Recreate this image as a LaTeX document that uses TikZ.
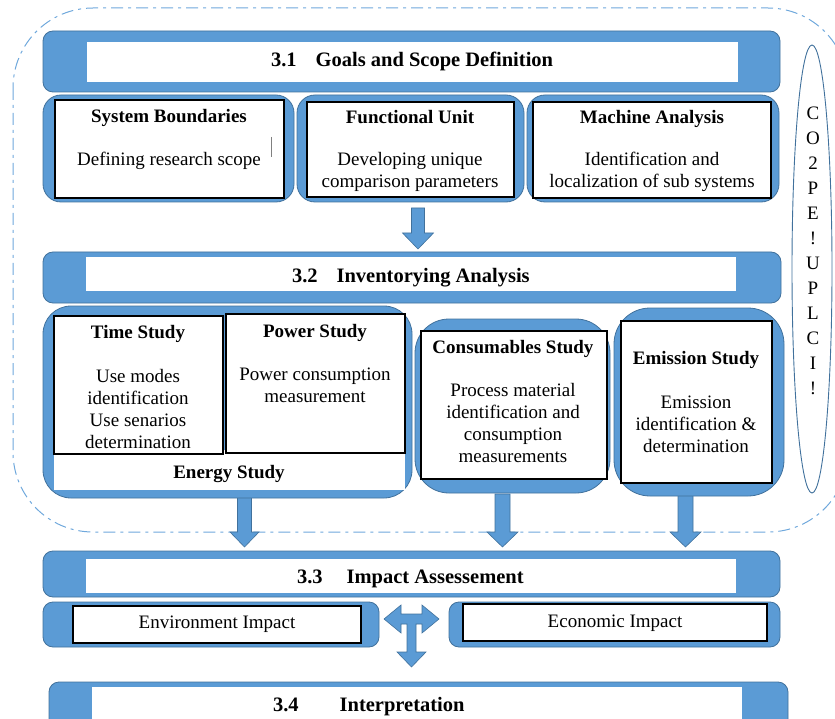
\documentclass[tikz,border=0pt]{standalone}
\usepackage{fontspec}
\setmainfont{Liberation Serif}

\definecolor{boxblue}{RGB}{91,155,213}
\definecolor{edgeblue}{RGB}{65,113,156}
\definecolor{dashblue}{RGB}{111,168,220}

% rectangle node given by its corners (x1,y1)-(x2,y2)
\newcommand\rbox[6]{%
  \node[#2, minimum width={(#5-#3)*1pt}, minimum height={(#6-#4)*1pt}]
    (#1) at ({(#3+#5)/2},{(#4+#6)/2}) {};}

% downward block arrow: centre x, top, start of head, tip, shaft half width, head half width
\newcommand\blockdown[6]{%
  \draw[fatarrow] ({#1-#5},#2) -- ({#1-#5},#3) -- ({#1-#6},#3) -- (#1,#4)
    -- ({#1+#6},#3) -- ({#1+#5},#3) -- ({#1+#5},#2) -- cycle;}

\tikzset{
  every node/.style={inner sep=0pt, outer sep=0pt},
  bluebox/.style={fill=boxblue, draw=edgeblue, line width=0.8pt},
  framebox/.style={fill=white, draw=black, line width=1.2pt},
  plainbox/.style={fill=white, draw=none},
  fatarrow/.style={fill=boxblue, draw=edgeblue, line width=0.6pt, line join=miter},
  hdrtext/.style={anchor=base west, font=\bfseries\fontsize{20.5}{24}\selectfont},
  titletext/.style={anchor=base, font=\bfseries\fontsize{19}{22}\selectfont},
  % multi-line body text: the base anchor sits on the last line
  bodytext/.style={anchor=base, align=center, font=\fontsize{19}{22}\selectfont},
  outline/.style={draw=dashblue, line width=1pt, dash pattern=on 12pt off 5pt on 3pt off 5pt},
}

\begin{document}
\begin{tikzpicture}[x=1pt, y=-1pt]
\useasboundingbox (0,0) rectangle (835,719);
\clip (0,0) rectangle (835,719);

% dash-dot boundary around goals and inventory stages
\draw[outline, rounded corners=80pt] (13,8) rectangle (848,532);

% side label
\draw[edgeblue, line width=0.9pt] (812,269) ellipse [x radius=20, y radius=224];
\node[align=center, font=\fontsize{19}{25}\selectfont] (cope) at (813,250.5)
  {C\\O\\2\\P\\E\\!\\U\\P\\L\\C\\I\\!};

% block arrows between stages
\blockdown{418}{208}{233}{249}{6.5}{15.5}
\blockdown{244.5}{496}{532}{547}{7}{14.5}
\blockdown{502.5}{494}{532}{547}{7.5}{15.5}
\blockdown{685.5}{494}{532}{547}{7.5}{15.5}
\draw[fatarrow] (384,619) -- (401,605) -- (401,614) -- (422,614) -- (422,605)
  -- (439,619) -- (422,633) -- (422,624) -- (416,624) -- (416,652) -- (426,652)
  -- (411.5,667) -- (397,652) -- (407,652) -- (407,624) -- (401,624)
  -- (401,633) -- cycle;

% 3.1 Goals and scope definition
\rbox{h1}{bluebox, rounded corners=10pt}{43}{31}{780}{92}
\rbox{h1w}{plainbox}{87}{42}{738}{82}
\node[hdrtext] (t31) at (271,67) {3.1\hspace{19pt}Goals and Scope Definition};

\rbox{sbo}{bluebox, rounded corners=18pt}{43}{95}{294}{202}
\rbox{sbi}{framebox}{55}{100}{284}{198}
\node[titletext] (sbT) at (169,123) {System Boundaries};
\node[bodytext] (sbB) at (169,166) {Defining research scope};
\draw[gray, line width=0.8pt] (271,137) -- (271,157);

\rbox{fuo}{bluebox, rounded corners=18pt}{297}{95}{524}{202}
\rbox{fui}{framebox}{307}{102}{514}{197}
\node[titletext] (fuT) at (410,124) {Functional Unit};
\node[bodytext] (fuB) at (410,188) {Developing unique\\comparison parameters};

\rbox{mao}{bluebox, rounded corners=18pt}{527}{95}{779}{202}
\rbox{mai}{framebox}{533}{102}{771}{198}
\node[titletext] (maT) at (652,124) {Machine Analysis};
\node[bodytext] (maB) at (652,188) {Identification and\\localization of sub systems};

% 3.2 Inventorying analysis
\rbox{h2}{bluebox, rounded corners=10pt}{43}{252}{781}{303}
\rbox{h2w}{plainbox}{86}{257}{736}{291}
\node[hdrtext] (t32) at (292,283) {3.2\hspace{19pt}Inventorying Analysis};

\rbox{eno}{bluebox, rounded corners=28pt}{43}{306}{412}{498}
\rbox{enw}{plainbox}{54}{450}{405}{490}
\rbox{tsi}{framebox}{54}{316}{223}{454}
\rbox{psi}{framebox}{226}{314}{405}{453}
\node[titletext] (tsT) at (138,338) {Time Study};
\node[bodytext] (tsB) at (138,448) {Use modes\\identification\\Use senarios\\determination};
\node[titletext] (psT) at (315,337) {Power Study};
\node[bodytext] (psB) at (315,402) {Power consumption\\measurement};
\node[titletext] (esT) at (229,478) {Energy Study};

\rbox{cso}{bluebox, rounded corners=34pt}{415}{319}{610}{493}
\rbox{csi}{framebox}{421}{331}{607}{479}
\node[titletext] (csT) at (513,353) {Consumables Study};
\node[bodytext] (csB) at (513,462) {Process material\\identification and\\consumption\\measurements};

\rbox{emo}{bluebox, rounded corners=36pt}{614}{308}{784}{496}
\rbox{emi}{framebox}{621}{321}{772}{483}
\node[titletext] (emT) at (696,364) {Emission Study};
\node[bodytext] (emB) at (696,452) {Emission\\identification \&\\determination};

% 3.3 Impact assessement
\rbox{h3}{bluebox, rounded corners=10pt}{43}{551}{780}{597}
\rbox{h3w}{plainbox}{86}{559}{736}{593}
\node[hdrtext] (t33) at (297,583) {3.3\hspace{24pt}Impact Assessement};

\rbox{envo}{bluebox, rounded corners=10pt}{43}{602}{379}{647}
\rbox{envi}{framebox}{73}{606}{361}{643}
\node[bodytext] (envT) at (217,628) {Environment Impact};

\rbox{ecoo}{bluebox, rounded corners=10pt}{449}{602}{780}{647}
\rbox{ecoi}{framebox}{463}{604}{767}{641}
\node[bodytext] (ecoT) at (615,627) {Economic Impact};

% 3.4 Interpretation
\rbox{h4}{bluebox, rounded corners=10pt}{49}{682}{788}{740}
\rbox{h4w}{plainbox}{92}{687}{742}{740}
\node[hdrtext] (t34) at (273,711) {3.4\hspace{41pt}Interpretation};
\end{tikzpicture}
\end{document}
